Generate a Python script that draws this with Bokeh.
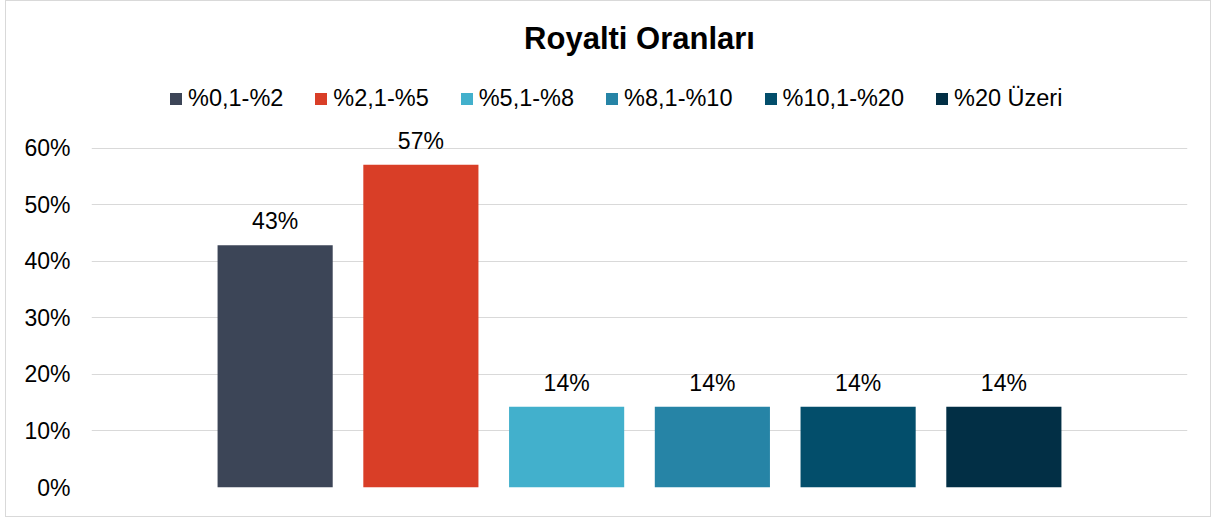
import numpy as np
from bokeh.plotting import figure
from bokeh.models import ColumnDataSource, Range1d, FixedTicker, NumeralTickFormatter, Legend, LegendItem
from bokeh.core.properties import value
from bokeh.embed import file_html
from bokeh.resources import INLINE

title = "Royalti Oranları"
cats = ["%0,1-%2", "%2,1-%5", "%5,1-%8", "%8,1-%10", "%10,1-%20", "%20 Üzeri"]
values = [0.4286, 0.5714, 0.1429, 0.1429, 0.1429, 0.1429]
labels = ["43%", "57%", "14%", "14%", "14%", "14%"]
colors = ["#3C4557", "#D93E27", "#42B0CC", "#2684A6", "#034E6B", "#022F45"]
y_ticks = [0, 0.1, 0.2, 0.3, 0.4, 0.5, 0.6]

FONT = "Liberation Sans"

xpos = [i + 0.5 for i in range(len(cats))]
src = ColumnDataSource(dict(x=xpos, top=values, cat=cats, color=colors, label=labels))

p = figure(width=1206, height=517, output_backend="svg", toolbar_location=None,
           x_range=Range1d(-0.76, len(cats) + 0.76), y_range=Range1d(0, 0.738),
           min_border_left=85, min_border_right=25, min_border_bottom=31, min_border_top=69,
           styles={"border": "1px solid #d9d9d9", "box-sizing": "border-box",
                   "margin-left": "5px"})

bars = p.vbar(x="x", top="top", width=0.79, bottom=0, source=src, fill_color="color",
              line_color=None)

p.text(x="x", y="top", text="label", source=src, text_align="center",
       text_baseline="alphabetic", y_offset=-24, text_font=value(FONT),
       text_font_size="23px", text_color="#000000")

p.title.text = title
p.title.align = "center"
p.title.text_font = FONT
p.title.text_font_size = "31px"
p.title.text_font_style = "bold"
p.title.text_color = "#000000"
p.title.standoff = 29

p.xaxis.visible = False
p.yaxis.ticker = FixedTicker(ticks=y_ticks)
p.yaxis.formatter = NumeralTickFormatter(format="0%")
p.yaxis.axis_line_color = None
p.yaxis.major_tick_line_color = None
p.yaxis.minor_tick_line_color = None
p.yaxis.major_tick_out = 0
p.yaxis.major_tick_in = 0
p.yaxis.major_label_standoff = 21
p.yaxis.major_label_text_font = FONT
p.yaxis.major_label_text_font_size = "23px"
p.yaxis.major_label_text_color = "#000000"

p.xgrid.grid_line_color = None
p.ygrid.grid_line_color = "#d9d9d9"
p.ygrid.grid_line_width = 1
p.ygrid.ticker = FixedTicker(ticks=y_ticks)
p.outline_line_color = None

items = [LegendItem(label=c, renderers=[bars], index=i) for i, c in enumerate(cats)]
leg = Legend(items=items, orientation="horizontal", location=(77, 375),
             glyph_width=15, glyph_height=15, label_standoff=5, spacing=30,
             label_text_font=FONT, label_text_font_size="23.5px", label_text_color="#000000",
             border_line_color=None, background_fill_alpha=0, padding=4, margin=0)
p.add_layout(leg, "center")

open("out.html", "w").write(file_html(p, INLINE))
